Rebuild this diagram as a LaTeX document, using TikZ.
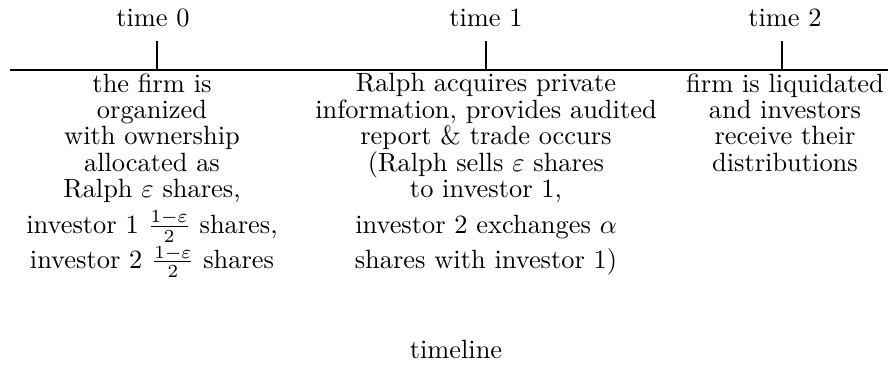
\documentclass[tikz,border=0pt]{standalone}
\usepackage{amsmath,amssymb}
\usepackage{tikz}
\usetikzlibrary{positioning,calc}

\begin{document}
\begin{tikzpicture}[x=0.3788pt,y=-0.3788pt,
   timelbl/.style={inner sep=0pt,anchor=base},
   event/.style={align=center,anchor=north,inner sep=0pt,
                 font={\fontsize{10}{10}\selectfont\lineskiplimit=-20pt}},
   tick/.style={line width=0.4pt},
]
\useasboundingbox (0,0) rectangle (888,384);

% time axis
\coordinate (axl) at (10,70);
\coordinate (axr) at (888,70);
\draw[tick] (axl) -- (axr);

% tick marks on the axis
\coordinate (t0) at (157,70);
\coordinate (t1) at (486,70);
\coordinate (t2) at (782,70);
\coordinate (t0top) at (157,41);
\coordinate (t1top) at (486,41);
\coordinate (t2top) at (782,41);
\draw[tick] (t0) -- (t0top);
\draw[tick] (t1) -- (t1top);
\draw[tick] (t2) -- (t2top);

% dates above the ticks
\node[timelbl] (lbl0) at (153,26) {time 0};
\node[timelbl] (lbl1) at (486,26) {time 1};
\node[timelbl] (lbl2) at (785,26) {time 2};

% events below the axis
\node[event] (ev0) at (152,73) {the firm is\\organized\\with ownership\\allocated as\\
   Ralph $\varepsilon$ shares,\\[3.5pt]
   investor 1 $\frac{1-\varepsilon}{2}$ shares,\\[3.3pt]
   investor 2 $\frac{1-\varepsilon}{2}$ shares};
\node[event] (ev1) at (486,73) {Ralph acquires private\\information, provides audited\\
   report \& trade occurs\\(Ralph sells $\varepsilon$ shares\\to investor 1,\\[3.5pt]
   investor 2 exchanges $\alpha$\\[3.3pt]
   shares with investor 1)};
\node[event] (ev2) at (785,73) {firm is liquidated\\and investors\\receive their\\distributions};

% caption
\node[timelbl] (cap) at (456,358) {timeline};
\end{tikzpicture}
\end{document}
